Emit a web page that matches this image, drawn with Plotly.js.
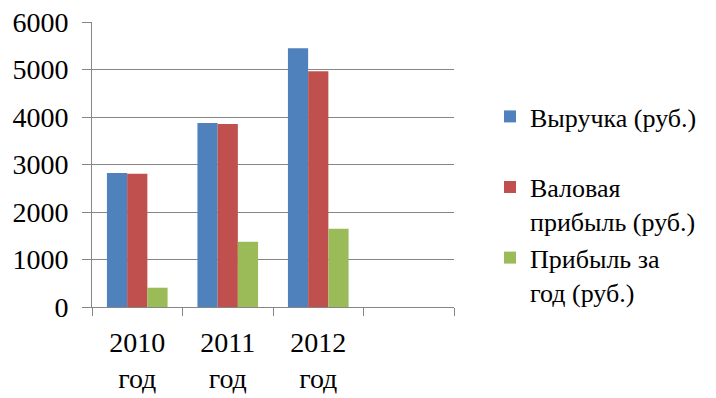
<!DOCTYPE html>
<html>
<head>
<meta charset="utf-8">
<script src="https://cdn.plot.ly/plotly-3.0.1.min.js"></script>
<style>html,body{margin:0;padding:0;background:#fff;}#chart{width:716px;height:398px;}</style>
</head>
<body>
<div id="chart"></div>
<script>
const categories = ["2010 год", "2011 год", "2012 год", " "];
const seriesNames = ["Выручка (руб.)", "Валовая прибыль (руб.)", "Прибыль за год (руб.)"];
const vyruchka = [2820, 3875, 5447, null];
const valovaya = [2803, 3855, 4963, null];
const pribyl = [406, 1374, 1647, null];
const colors = ["#4F81BD", "#C0504D", "#9BBB59"];

const labels = categories.map(c => c.replace(" год", "<br>год"));
const values = [vyruchka, valovaya, pribyl];
const legendNames = ["Выручка (руб.)<br>&nbsp;", "Валовая<br>прибыль (руб.)", "Прибыль за<br>год (руб.)"];

const traces = values.map((v, i) => ({
  type: "bar",
  name: legendNames[i],
  x: labels,
  y: v,
  marker: {color: colors[i]},
  hoverinfo: "none"
}));

const fam = "Liberation Serif";

const layout = {
  width: 716, height: 398,
  margin: {l: 92, r: 262, t: 22, b: 91, autoexpand: false},
  paper_bgcolor: "#fff", plot_bgcolor: "#fff",
  barmode: "group", bargap: 0.33, bargroupgap: 0,
  font: {family: fam, size: 28, color: "#000"},
  xaxis: {
    type: "category",
    categoryorder: "array", categoryarray: labels,
    range: [-0.5, 3.5],
    tickson: "boundaries",
    tickangle: 0,
    automargin: false,
    ticks: "outside", ticklen: 8, tickcolor: "#868686", tickwidth: 1,
    ticklabelstandoff: 10,
    showline: true, linecolor: "#868686", linewidth: 1,
    showgrid: false, zeroline: false,
    tickfont: {family: fam, size: 28, color: "#000"},
    fixedrange: true
  },
  yaxis: {
    range: [0, 6000], dtick: 1000, tick0: 0,
    automargin: false,
    ticks: "outside", ticklen: 9, tickcolor: "#868686", tickwidth: 1,
    ticklabelstandoff: 8,
    showline: true, linecolor: "#868686", linewidth: 1,
    showgrid: true, gridcolor: "#868686", gridwidth: 1,
    zeroline: false,
    tickfont: {family: fam, size: 28, color: "#000"},
    fixedrange: true
  },
  showlegend: true,
  legend: {
    xref: "container", yref: "container",
    x: 490/716, y: 1 - 93/398, xanchor: "left", yanchor: "top",
    valign: "top",
    maxheight: 300,
    font: {family: fam, size: 26, color: "#000"},
    traceorder: "normal",
    bgcolor: "rgba(0,0,0,0)"
  }
};

Plotly.newPlot("chart", traces, layout, {staticPlot: true, displayModeBar: false});
</script>
</body>
</html>
